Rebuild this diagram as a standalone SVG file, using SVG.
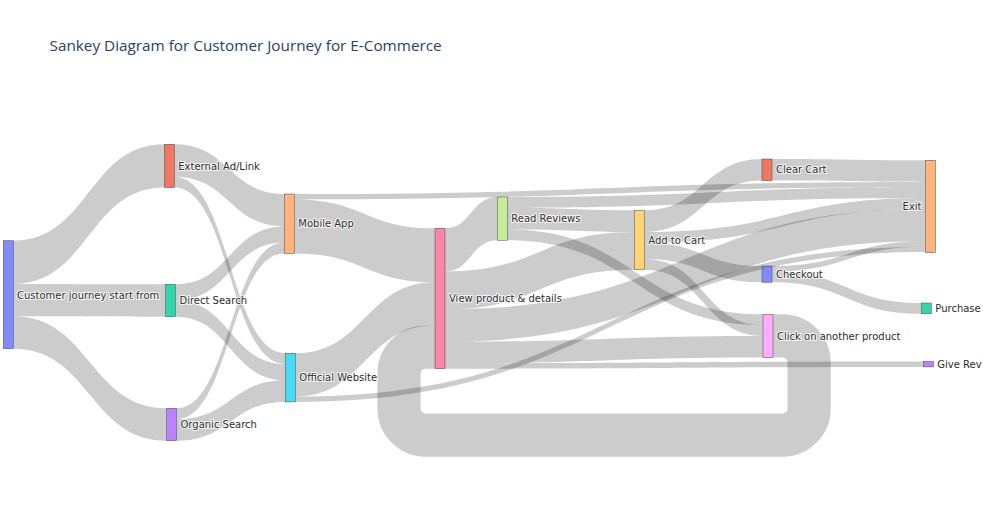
<svg xmlns="http://www.w3.org/2000/svg" width="983" height="525" viewBox="0 0 983 525">
<style>
.lk{fill:rgba(0,0,0,0.2);stroke:none}
.loop{fill:none;stroke:rgba(0,0,0,0.2);stroke-width:43.2}
.nd{fill-opacity:0.8;stroke:#444;stroke-width:0.5}
.lb{font-family:"DejaVu Sans",Verdana,sans-serif;font-size:10px;fill:#2b2b2b;stroke:#fff;stroke-width:2px;stroke-opacity:0.85;paint-order:stroke;stroke-linejoin:round}
.title{font-family:"Open Sans",Verdana,Arial,sans-serif;font-size:15.3px;fill:#2a3f5f}
</style>
<rect width="983" height="525" fill="#fff"/>
<text class="title" x="49.5" y="50.5">Sankey Diagram for Customer Journey for E-Commerce</text>
<g id="connectors">
<path class="lk" d="M13.3,240.7C88.8,240.7 88.8,144.3 164.3,144.3L164.3,187.5C88.8,187.5 88.8,283.9 13.3,283.9Z"/>
<path class="lk" d="M13.3,283.9C89.4,283.9 89.4,284.3 165.5,284.3L165.5,316.7C89.4,316.7 89.4,316.3 13.3,316.3Z"/>
<path class="lk" d="M13.3,316.3C89.9,316.3 89.9,408.3 166.5,408.3L166.5,440.7C89.9,440.7 89.9,348.7 13.3,348.7Z"/>
<path class="lk" d="M174.3,144.3C229.3,144.3 229.3,194 284.3,194L284.3,226.4C229.3,226.4 229.3,176.7 174.3,176.7Z"/>
<path class="lk" d="M174.3,176.7C229.8,176.7 229.8,353.3 285.3,353.3L285.3,364.1C229.8,364.1 229.8,187.5 174.3,187.5Z"/>
<path class="lk" d="M175.5,284.3C229.9,284.3 229.9,226.4 284.3,226.4L284.3,242.6C229.9,242.6 229.9,300.5 175.5,300.5Z"/>
<path class="lk" d="M175.5,300.5C230.4,300.5 230.4,364.1 285.3,364.1L285.3,380.3C230.4,380.3 230.4,316.7 175.5,316.7Z"/>
<path class="lk" d="M176.5,408.3C230.4,408.3 230.4,242.6 284.3,242.6L284.3,253.4C230.4,253.4 230.4,419.1 176.5,419.1Z"/>
<path class="lk" d="M176.5,419.1C230.9,419.1 230.9,380.3 285.3,380.3L285.3,401.9C230.9,401.9 230.9,440.7 176.5,440.7Z"/>
<path class="lk" d="M294.3,194C609.8,194 609.8,181.9 925.3,181.9L925.3,187.3C609.8,187.3 609.8,199.4 294.3,199.4Z"/>
<path class="lk" d="M294.3,199.4C364.65,199.4 364.65,228.3 435,228.3L435,282.3C364.65,282.3 364.65,253.4 294.3,253.4Z"/>
<path class="lk" d="M295.3,353.3C365.15,353.3 365.15,282.3 435,282.3L435,325.5C365.15,325.5 365.15,396.5 295.3,396.5Z"/>
<path class="lk" d="M295.3,396.5C610.3,396.5 610.3,246.7 925.3,246.7L925.3,252.1C610.3,252.1 610.3,401.9 295.3,401.9Z"/>
<path class="lk" d="M445,228.3C471.15,228.3 471.15,197 497.3,197L497.3,240.2C471.15,240.2 471.15,271.5 445,271.5Z"/>
<path class="lk" d="M445,271.5C539.65,271.5 539.65,231.9 634.3,231.9L634.3,269.7C539.65,269.7 539.65,309.3 445,309.3Z"/>
<path class="lk" d="M445,309.3C685.15,309.3 685.15,208.9 925.3,208.9L925.3,241.3C685.15,241.3 685.15,341.7 445,341.7Z"/>
<path class="lk" d="M445,341.7C604,341.7 604,335.9 763,335.9L763,357.5C604,357.5 604,363.3 445,363.3Z"/>
<path class="lk" d="M445,363.3C684.15,363.3 684.15,361.5 923.3,361.5L923.3,366.9C684.15,366.9 684.15,368.7 445,368.7Z"/>
<path class="lk" d="M507.3,197C716.3,197 716.3,187.3 925.3,187.3L925.3,198.1C716.3,198.1 716.3,207.8 507.3,207.8Z"/>
<path class="lk" d="M507.3,207.8C570.8,207.8 570.8,210.3 634.3,210.3L634.3,231.9C570.8,231.9 570.8,229.4 507.3,229.4Z"/>
<path class="lk" d="M507.3,229.4C635.15,229.4 635.15,314.3 763,314.3L763,325.1C635.15,325.1 635.15,240.2 507.3,240.2Z"/>
<path class="lk" d="M644.3,210.3C703.15,210.3 703.15,159 762,159L762,180.6C703.15,180.6 703.15,231.9 644.3,231.9Z"/>
<path class="lk" d="M644.3,231.9C784.8,231.9 784.8,198.1 925.3,198.1L925.3,208.9C784.8,208.9 784.8,242.7 644.3,242.7Z"/>
<path class="lk" d="M644.3,242.7C703.15,242.7 703.15,266 762,266L762,282.2C703.15,282.2 703.15,258.9 644.3,258.9Z"/>
<path class="lk" d="M644.3,258.9C703.65,258.9 703.65,325.1 763,325.1L763,335.9C703.65,335.9 703.65,269.7 644.3,269.7Z"/>
<path class="lk" d="M772,159C848.65,159 848.65,160.3 925.3,160.3L925.3,181.9C848.65,181.9 848.65,180.6 772,180.6Z"/>
<path class="lk" d="M772,266C848.65,266 848.65,241.3 925.3,241.3L925.3,246.7C848.65,246.7 848.65,271.4 772,271.4Z"/>
<path class="lk" d="M772,271.4C846.65,271.4 846.65,303 921.3,303L921.3,313.8C846.65,313.8 846.65,282.2 772,282.2Z"/>
<path class="loop" d="M773,335.9H782.5A26.6,26.6 0 0 1 809.1,362.5V408.5A26.6,26.6 0 0 1 782.5,435.1H425.6A26.6,26.6 0 0 1 399,408.5V373.7A26.6,26.6 0 0 1 425.6,347.1H435"/>
</g>
<g id="node-customer"><rect class="nd" x="3.3" y="240.7" width="10" height="108" fill="#636efa"/><text class="lb" x="17" y="298.6">Customer journey start from</text></g>
<g id="node-external"><rect class="nd" x="164.3" y="144.3" width="10" height="43.2" fill="#EF553B"/><text class="lb" x="178.3" y="169.5">External Ad/Link</text></g>
<g id="node-direct"><rect class="nd" x="165.5" y="284.3" width="10" height="32.4" fill="#00cc96"/><text class="lb" x="179.5" y="304.1">Direct Search</text></g>
<g id="node-organic"><rect class="nd" x="166.5" y="408.3" width="10" height="32.4" fill="#ab63fa"/><text class="lb" x="180.5" y="428.1">Organic Search</text></g>
<g id="node-mobile"><rect class="nd" x="284.3" y="194" width="10" height="59.4" fill="#FFA15A"/><text class="lb" x="298.3" y="227.3">Mobile App</text></g>
<g id="node-official"><rect class="nd" x="285.3" y="353.3" width="10" height="48.6" fill="#19d3f3"/><text class="lb" x="299.3" y="381.2">Official Website</text></g>
<g id="node-view"><rect class="nd" x="435" y="228.3" width="10" height="140.4" fill="#FF6692"/><text class="lb" x="449" y="302.1">View product &amp; details</text></g>
<g id="node-reviews"><rect class="nd" x="497.3" y="197" width="10" height="43.2" fill="#B6E880"/><text class="lb" x="511.3" y="222.2">Read Reviews</text></g>
<g id="node-cart"><rect class="nd" x="634.3" y="210.3" width="10" height="59.4" fill="#FECB52"/><text class="lb" x="648.3" y="243.6">Add to Cart</text></g>
<g id="node-clear"><rect class="nd" x="762" y="159" width="10" height="21.6" fill="#EF553B"/><text class="lb" x="776" y="173.4">Clear Cart</text></g>
<g id="node-checkout"><rect class="nd" x="762" y="266" width="10" height="16.2" fill="#636efa"/><text class="lb" x="776" y="277.7">Checkout</text></g>
<g id="node-click"><rect class="nd" x="763" y="314.3" width="10" height="43.2" fill="#FF97FF"/><text class="lb" x="777" y="339.5">Click on another product</text></g>
<g id="node-exit"><rect class="nd" x="925.3" y="160.3" width="10" height="92.4" fill="#FFA15A"/><text class="lb" x="921.5" y="210.2" text-anchor="end">Exit</text></g>
<g id="node-purchase"><rect class="nd" x="921.3" y="303" width="10" height="10.8" fill="#00cc96"/><text class="lb" x="935.3" y="312">Purchase</text></g>
<g id="node-review"><rect class="nd" x="923.3" y="361.5" width="10" height="5.4" fill="#ab63fa"/><text class="lb" x="937.3" y="367.8">Give Rev</text></g>
</svg>
